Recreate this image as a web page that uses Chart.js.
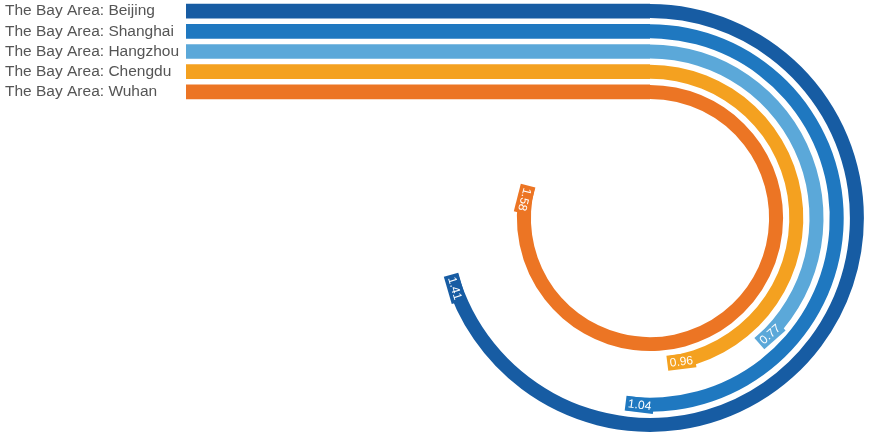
<!DOCTYPE html>
<html>
<head>
<meta charset="utf-8">
<title>The Bay Area</title>
<script src="https://cdn.jsdelivr.net/npm/chart.js@4.4.1/dist/chart.umd.min.js"></script>
<style>
  html, body { margin: 0; padding: 0; background: #fff; }
  #wrap { position: relative; width: 869px; height: 436px; overflow: hidden; }
  #ringChart { position: absolute; left: 432px; top: 0; }
  #trackChart { position: absolute; left: 0; top: 1px; }
</style>
</head>
<body>
<div id="wrap">
  <canvas id="ringChart" width="436" height="436"></canvas>
  <canvas id="trackChart" width="650" height="101"></canvas>
</div>
<script>
// series, outermost ring first
const cities = [
    'The Bay Area: Beijing',
    'The Bay Area: Shanghai',
    'The Bay Area: Hangzhou',
    'The Bay Area: Chengdu',
    'The Bay Area: Wuhan'
];
const values = [1.41, 1.04, 0.77, 0.96, 1.58];
const valueLabels = ['1.41', '1.04', '0.77', '0.96', '1.58'];
// a full turn of the ring stands for this much
const fullScale = 2;
// straight lead-in running into each ring
const leadIn = [1, 1, 1, 1, 1];
const colors = ['#175ca3', '#1f78c0', '#5ba8d9', '#f4a120', '#ec7524'];

const ringWeight = 14;
const gapWeight = 6.2;
const innerR = 119.1;
const outerR = innerR + cities.length * ringWeight + (cities.length - 1) * gapWeight;

// ring datasets with see-through spacers between them
const ringSets = [];
cities.forEach(function (name, i) {
    ringSets.push({
        label: name,
        data: [values[i], fullScale - values[i]],
        backgroundColor: [colors[i], 'rgba(0,0,0,0)'],
        valueLabel: valueLabels[i],
        weight: ringWeight
    });
    if (i < cities.length - 1) {
        ringSets.push({
            label: '',
            data: [fullScale],
            backgroundColor: ['rgba(0,0,0,0)'],
            spacer: true,
            weight: gapWeight
        });
    }
});

// value tag written along the ring at the end of each arc
const endLabels = {
    id: 'endLabels',
    afterDatasetsDraw(chart) {
        const ctx = chart.ctx;
        chart.data.datasets.forEach(function (ds, di) {
            if (ds.spacer) return;
            const arc = chart.getDatasetMeta(di).data[0];
            const p = arc.getProps(['x', 'y', 'endAngle', 'innerRadius', 'outerRadius'], true);
            const r = (p.innerRadius + p.outerRadius) / 2;
            const thick = p.outerRadius - p.innerRadius;
            ctx.save();
            ctx.translate(p.x + r * Math.cos(p.endAngle), p.y + r * Math.sin(p.endAngle));
            ctx.rotate(p.endAngle - Math.PI / 2);
            ctx.font = '12px "Liberation Sans", Arial, sans-serif';
            const w = ctx.measureText(ds.valueLabel).width;
            ctx.fillStyle = ds.backgroundColor[0];
            ctx.fillRect(-1, -thick / 2 - 0.5, w + 5, thick + 1);
            ctx.fillStyle = '#ffffff';
            ctx.textBaseline = 'middle';
            ctx.textAlign = 'left';
            ctx.fillText(ds.valueLabel, 1.5, 0.5);
            ctx.restore();
        });
    }
};

new Chart(document.getElementById('ringChart'), {
    type: 'doughnut',
    data: { labels: ['value', 'rest'], datasets: ringSets },
    options: {
        responsive: false,
        animation: false,
        events: [],
        radius: outerR,
        cutout: (innerR / outerR * 100) + '%',
        rotation: 0,
        circumference: 360,
        borderWidth: 0,
        hoverOffset: 0,
        plugins: {
            legend: { display: false },
            tooltip: { enabled: false }
        }
    },
    plugins: [endLabels]
});

new Chart(document.getElementById('trackChart'), {
    type: 'bar',
    data: {
        labels: cities,
        datasets: [{
            data: leadIn,
            backgroundColor: colors,
            borderWidth: 0,
            barThickness: ringWeight
        }]
    },
    options: {
        indexAxis: 'y',
        responsive: false,
        animation: false,
        events: [],
        layout: { padding: { left: 5, right: 0, top: 0, bottom: 0 } },
        plugins: {
            legend: { display: false },
            tooltip: { enabled: false }
        },
        scales: {
            x: { display: false, min: 0, max: 1 },
            y: {
                grid: { display: false },
                border: { display: false },
                ticks: {
                    autoSkip: false,
                    crossAlign: 'far',
                    padding: 0,
                    color: '#555555',
                    font: { family: '"Liberation Sans", Arial, sans-serif', size: 15.5 }
                },
                afterFit: function (scale) {
                    scale.width = 181;
                    scale.paddingTop = 0;
                    scale.paddingBottom = 0;
                }
            }
        }
    }
});
</script>
</body>
</html>
